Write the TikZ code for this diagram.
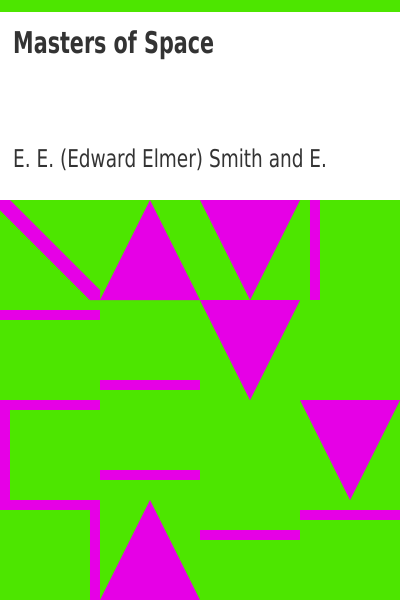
\documentclass[tikz,border=0pt]{standalone}
\usepackage{fontspec}
\newfontfamily\titlefont{DejaVu Sans Bold}[FakeStretch=0.69]
\newfontfamily\authfont{DejaVu Sans}[FakeStretch=0.755]
\definecolor{bggreen}{RGB}{77,230,0}
\definecolor{mag}{RGB}{230,0,230}
\definecolor{ink}{RGB}{51,51,51}
\tikzset{shp/.style={fill=mag,draw=none}}
\begin{document}
\begin{tikzpicture}[x=1pt,y=-1pt]
\useasboundingbox (0,0) rectangle (400,600);
\fill[white] (0,0) rectangle (400,600);
\fill[bggreen] (0,0) rectangle (400,12);
\fill[bggreen] (0,200) rectangle (400,600);
% text
\node[anchor=base west,inner sep=0,text=ink,font=\titlefont\fontsize{30}{36}\selectfont] (title) at (13,53) {Masters of Space};
\node[anchor=base west,inner sep=0,text=ink,font=\authfont\fontsize{24.5}{30}\selectfont] (author) at (13,167) {E. E. (Edward Elmer) Smith and E.};
% diagonal band
\begin{scope}
\clip (0,200) rectangle (100,300);
\fill[mag] (-10,200) -- (10,200) -- (110,300) -- (90,300) -- cycle;
\end{scope}
% triangles
\fill[shp] (100,300) -- (150,200) -- (200,300) -- cycle;
\fill[shp] (200,200) -- (300,200) -- (250,300) -- cycle;
\fill[shp] (200,300) -- (300,300) -- (250,400) -- cycle;
\fill[shp] (300,400) -- (400,400) -- (350,500) -- cycle;
\fill[shp] (100,600) -- (150,500) -- (200,600) -- cycle;
% bars
\fill[shp] (310,200) rectangle (320,300);
\fill[shp] (0,310) rectangle (100,320);
\fill[shp] (100,380) rectangle (200,390);
\fill[shp] (0,400) rectangle (100,410);
\fill[shp] (0,400) rectangle (10,510);
\fill[shp] (0,500) rectangle (100,510);
\fill[shp] (90,500) rectangle (100,600);
\fill[shp] (100,470) rectangle (200,480);
\fill[shp] (200,530) rectangle (300,540);
\fill[shp] (300,510) rectangle (400,520);
\end{tikzpicture}
\end{document}
